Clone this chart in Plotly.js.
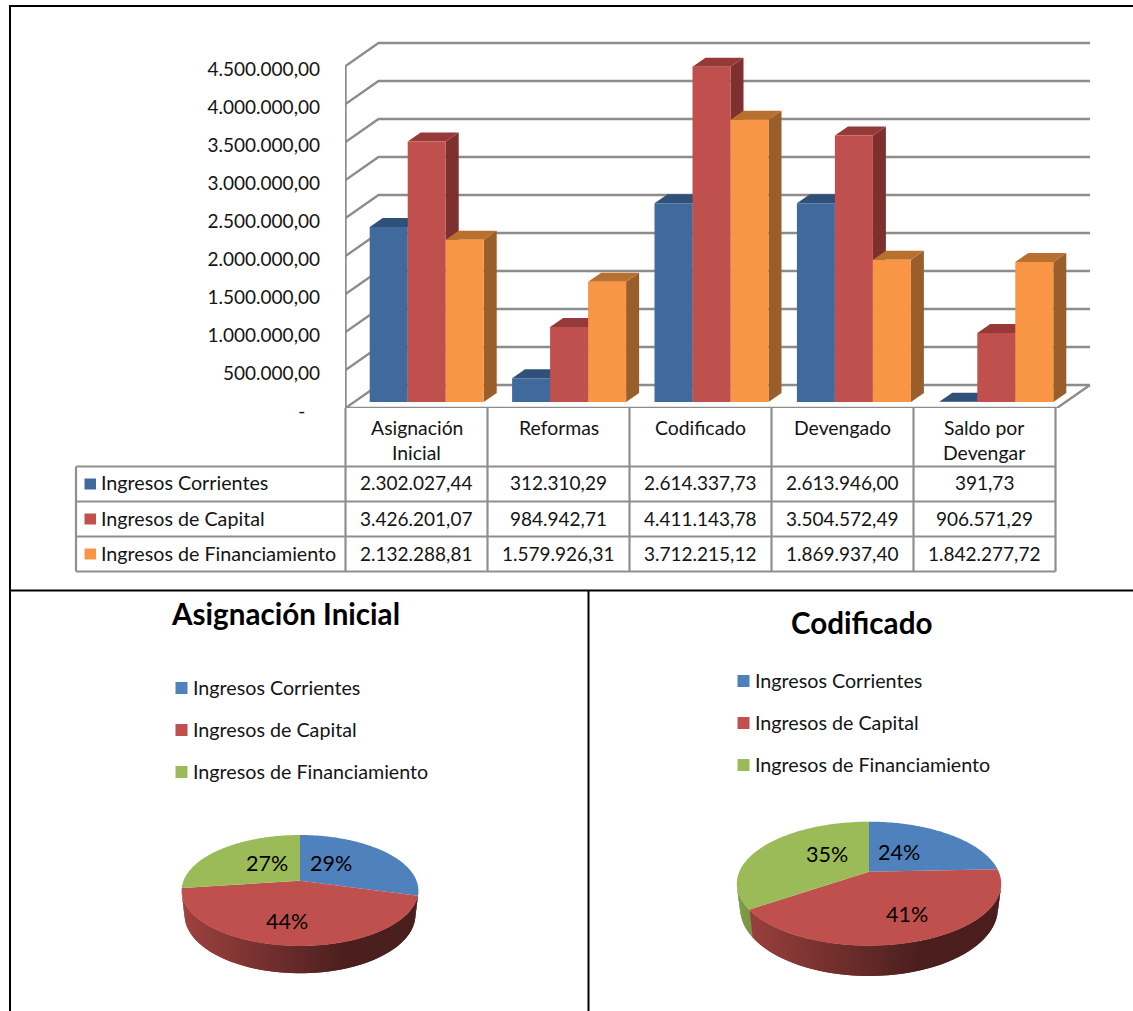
<!DOCTYPE html>
<html>
<head>
<meta charset="utf-8">
<script src="https://cdn.plot.ly/plotly-3.0.1.min.js"></script>
<style>html,body{margin:0;padding:0;background:#fff}</style>
</head>
<body>
<div id="chart" style="width:1133px;height:1011px"></div>
<script>
// Budget data
const categories = ['Asignación<br>Inicial', 'Reformas', 'Codificado', 'Devengado', 'Saldo por<br>Devengar'];
const seriesNames = ['Ingresos Corrientes', 'Ingresos de Capital', 'Ingresos de Financiamiento'];
const corrientes = [2302027.44, 312310.29, 2614337.73, 2613946.00, 391.73];
const capital = [3426201.07, 984942.71, 4411143.78, 3504572.49, 906571.29];
const financiamiento = [2132288.81, 1579926.31, 3712215.12, 1869937.40, 1842277.72];
const axisTicks = [0, 500000, 1000000, 1500000, 2000000, 2500000, 3000000, 3500000, 4000000, 4500000];
const pieTitles = ['Asignación Inicial', 'Codificado'];

const allSeries = [corrientes, capital, financiamiento];

// Page and colour settings
const W = 1133, H = 1011;
const FONT = 'Lato, Carlito, Calibri, sans-serif';
const TEXT = '#141414';
const GRID = '#8c8c8c';
const TABLE_LINE = '#8f8f8f';
const barFront = ['#416A9C', '#C0504D', '#F89646'];
const barTop = ['#2F5078', '#953A38', '#B9702F'];
const barSide = ['#2D4C73', '#7E302E', '#9A5E2A'];
const pieColors = ['#4F81BD', '#C0504D', '#9BBB59'];

const px = x => x / W;
const py = y => 1 - y / H;

// Bar plot scales: one group per unit on x, and the front wall's zero sits on the plot bottom
const GROUP_PX = 142.4, GROUP0_PX = 426.7, FLOOR_PX = 408, PLOT_TOP = 30;
const TABLE_COL_PX = 142;
const VALUE_PER_PX = 500000 / 38;
const xd = pxValue => (pxValue - GROUP0_PX) / GROUP_PX;
const yd = pixels => pixels * VALUE_PER_PX;
const BAR_BASE = yd(6.1);
const BAR_W = 38 / GROUP_PX;
const DEPTH_X = 13 / GROUP_PX, DEPTH_Y = yd(9);

const shapes = [];
const annotations = [];

function label(text, x, y, opts) {
  annotations.push(Object.assign({
    text, x, y, xref: 'paper', yref: 'paper', showarrow: false,
    xanchor: 'center', yanchor: 'middle', yshift: 1,
    font: {family: FONT, size: 19, color: TEXT}
  }, opts || {}));
}
function pageLine(x0, y0, x1, y1, color, width) {
  shapes.push({type: 'line', xref: 'paper', yref: 'paper', x0: px(x0), x1: px(x1), y0: py(y0), y1: py(y1),
    line: {color, width}});
}
function pageSquare(x0, y0, x1, y1, color) {
  shapes.push({type: 'rect', xref: 'paper', yref: 'paper', x0: px(x0), x1: px(x1), y0: py(y0), y1: py(y1),
    fillcolor: color, line: {width: 0}});
}
const money = v => {
  const [whole, dec] = v.toFixed(2).split('.');
  return whole.replace(/\B(?=(\d{3})+$)/g, '.') + ',' + dec;
};

// Walls and floor of the 3D box
const wallLeft = xd(345.5), wallRight = xd(1057), wallDx = 33 / GROUP_PX, wallDy = yd(23);
axisTicks.forEach(t => {
  shapes.push({type: 'path', layer: 'below', xref: 'x', yref: 'y',
    path: `M ${wallLeft} ${t} L ${wallLeft + wallDx} ${t + wallDy} L ${wallRight + wallDx} ${t + wallDy}`,
    line: {color: GRID, width: 2.4}});
});
shapes.push({type: 'path', layer: 'below', xref: 'x', yref: 'y',
  path: `M ${wallLeft} ${axisTicks[axisTicks.length - 1]} L ${wallLeft} 0 L ${wallRight} 0 L ${wallRight + wallDx} ${wallDy}`,
  line: {color: GRID, width: 2.4}});

// Side and top faces of each bar, from the bar's own value
categories.forEach((_, c) => {
  allSeries.forEach((vals, s) => {
    const left = c + (s - 1.5) * BAR_W, right = left + BAR_W;
    const top = BAR_BASE + vals[c];
    shapes.push({type: 'path', layer: 'below', xref: 'x', yref: 'y', fillcolor: barSide[s], line: {width: 0},
      path: `M ${right} ${BAR_BASE} L ${right + DEPTH_X} ${BAR_BASE + DEPTH_Y} L ${right + DEPTH_X} ${top + DEPTH_Y} L ${right} ${top} Z`});
    shapes.push({type: 'path', layer: 'below', xref: 'x', yref: 'y', fillcolor: barTop[s], line: {width: 0},
      path: `M ${left} ${top} L ${left + DEPTH_X} ${top + DEPTH_Y} L ${right + DEPTH_X} ${top + DEPTH_Y} L ${right} ${top} Z`});
  });
});

const traces = allSeries.map((vals, s) => ({
  type: 'bar', name: seriesNames[s], x: categories.map((_, i) => i), y: vals, base: BAR_BASE,
  marker: {color: barFront[s], line: {width: 0}}, xaxis: 'x', yaxis: 'y', showlegend: false, hoverinfo: 'skip'
}));

// Data table under the bars
const columnEdges = [0, 1, 2, 3, 4, 5].map(i => 345.5 + i * TABLE_COL_PX);
const rowEdges = [466.5, 501.5, 536.5, 571.5];
const TABLE_LEFT = 76;
columnEdges.forEach(x => pageLine(x, FLOOR_PX, x, rowEdges[3], TABLE_LINE, 2.2));
pageLine(TABLE_LEFT, rowEdges[0], TABLE_LEFT, rowEdges[3], TABLE_LINE, 2.2);
rowEdges.forEach(y => pageLine(TABLE_LEFT, y, columnEdges[5], y, TABLE_LINE, 2.2));

const nameFont = {family: FONT, size: 19.7, color: TEXT};
categories.forEach((cat, c) => {
  const cx = px(columnEdges[c] + TABLE_COL_PX / 2);
  const lines = cat.split('<br>');
  lines.forEach((ln, i) => label(ln, cx, py(428 + i * 25.5), {font: {family: FONT, size: 19.4, color: TEXT}}));
});
seriesNames.forEach((name, s) => {
  const mid = (rowEdges[s] + rowEdges[s + 1]) / 2;
  pageSquare(84.5, mid - 5.5, 96, mid + 5.5, barFront[s]);
  label(name, px(98.5), py(mid), {xanchor: 'left', font: nameFont});
  allSeries[s].forEach((v, c) => label(money(v), px(columnEdges[c] + TABLE_COL_PX / 2 - 0.5), py(mid)));
});

// Panel frame
const FRAME = '#000000';
pageLine(10, 6, W, 6, FRAME, 2);
pageLine(10, 5, 10, H, FRAME, 2);
pageLine(10, 590.5, W, 590.5, FRAME, 2);
pageLine(588.5, 590, 588.5, H, FRAME, 2);

// Tilted pies: each slice is projected from its angle, so the nearer edge looks larger
function piePoint(geo, deg, rim) {
  const a = deg * Math.PI / 180, u = Math.sin(a), v = Math.cos(a), w = 1 + geo.p * v;
  if (rim) return [geo.cx + geo.a * geo.sx * u / w, geo.rimCy - geo.b * geo.sy * v / w];
  return [geo.cx + geo.a * u / w, geo.cy - geo.b * v / w];
}
function mix(hex, f) {
  const n = parseInt(hex.slice(1), 16);
  const c = [n >> 16, (n >> 8) & 255, n & 255].map(k => Math.round(k * f));
  return `rgb(${c[0]},${c[1]},${c[2]})`;
}
function addPie(values, geo, axisX, axisY) {
  const total = values.reduce((a, b) => a + b, 0);
  const stops = [0];
  values.forEach(v => stops.push(stops[stops.length - 1] + v / total * 360));
  const common = {type: 'scatter', fill: 'toself', xaxis: axisX, yaxis: axisY,
    showlegend: false, hoverinfo: 'skip'};
  const left = geo.cx - geo.a, right = geo.cx + geo.a;
  // Rim between the two silhouette angles, painted left to right with each strip overlapping the next
  const tangent = Math.acos(-geo.p) * 180 / Math.PI;
  const rimStep = 2;
  for (let d = 360 - tangent - rimStep; d >= tangent; d -= rimStep) {
    const mid = d + rimStep / 2;
    let s = 0;
    while (s < values.length - 1 && mid > stops[s + 1]) s++;
    const stopAt = Math.max(tangent, d - rimStep);
    const startAt = d + rimStep;
    const pts = [piePoint(geo, startAt, false), piePoint(geo, stopAt, false), piePoint(geo, stopAt, true), piePoint(geo, startAt, true)];
    const t = (piePoint(geo, mid, false)[0] - left) / (right - left);
    const color = mix(pieColors[s], Math.max(0.39, 0.82 - 0.62 * t));
    traces.push(Object.assign({}, common, {
      mode: 'none', x: pts.map(p => p[0]), y: pts.map(p => p[1]), fillcolor: color
    }));
  }
  // Top face
  values.forEach((v, s) => {
    const xs = [geo.cx], ys = [geo.cy];
    for (let d = stops[s]; d < stops[s + 1]; d += 1) {
      const p = piePoint(geo, d, false);
      xs.push(p[0]); ys.push(p[1]);
    }
    const e = piePoint(geo, stops[s + 1], false);
    xs.push(e[0]); ys.push(e[1]);
    traces.push(Object.assign({}, common, {
      mode: 'none', name: seriesNames[s], x: xs, y: ys, fillcolor: pieColors[s]
    }));
  });
  // Percent labels
  values.forEach((v, s) => {
    annotations.push({
      text: Math.round(v / total * 100) + '%', x: geo.labels[s][0], y: geo.labels[s][1],
      xref: axisX, yref: axisY, showarrow: false, xanchor: 'center', yanchor: 'middle', yshift: 0,
      font: {family: FONT, size: 21.5, color: '#000'}
    });
  });
}

const pieA = {cx: 300, cy: 880.7, a: 116.5, b: 53.77, p: 0.1766, rimCy: 904.7, sx: 0.975, sy: 1.05,
  labels: [[330.7, 862.7], [286.7, 920.7], [266.7, 862.7]]};
const pieB = {cx: 869, cy: 871.7, a: 129.7, b: 59.7, p: 0.1935, rimCy: 895.3, sx: 0.975, sy: 1.09,
  labels: [[899.3, 852.3], [907, 914], [827.3, 854]]};
const columnOf = c => allSeries.map(vals => vals[c]);
addPie(columnOf(0), pieA, 'x2', 'y2');
addPie(columnOf(2), pieB, 'x3', 'y3');

// Pie titles and legends
const titleFont = {family: FONT, size: 29.6, color: '#000', weight: 700};
label('<b>' + pieTitles[0] + '</b>', px(285.5), py(614), {font: titleFont, yshift: 1});
label('<b>' + pieTitles[1] + '</b>', px(861), py(623), {font: titleFont, yshift: 1});
[[175.5, 688], [737.5, 681]].forEach(([lx, ly]) => {
  seriesNames.forEach((name, s) => {
    const y = ly + s * 42;
    pageSquare(lx, y - 6, lx + 12, y + 6, pieColors[s]);
    label(name, px(lx + 15), py(y), {xanchor: 'left', font: nameFont});
  });
});

const hidden = {visible: false, fixedrange: true};
const layout = {
  width: W, height: H, margin: {l: 0, r: 0, t: 0, b: 0}, autosize: false,
  paper_bgcolor: '#fff', plot_bgcolor: 'rgba(0,0,0,0)', showlegend: false,
  barmode: 'group', bargap: (GROUP_PX - 114) / GROUP_PX, bargroupgap: 0,
  xaxis: {domain: [px(345), px(1092)], range: [xd(345), xd(1092)], showgrid: false, zeroline: false,
    showline: false, showticklabels: false, ticks: '', fixedrange: true, anchor: 'y'},
  yaxis: {domain: [py(FLOOR_PX), py(PLOT_TOP)], range: [0, yd(FLOOR_PX - PLOT_TOP)], showgrid: false, zeroline: false,
    showline: false, ticks: '', tickmode: 'array', tickvals: axisTicks,
    ticktext: axisTicks.map(t => t === 0 ? '-\u00a0\u00a0\u00a0' : money(t)),
    tickfont: {family: FONT, size: 19, color: TEXT}, ticklabelstandoff: 24, ticklabelshift: 3, fixedrange: true, anchor: 'x'},
  xaxis2: Object.assign({domain: [px(12), px(587)], range: [12, 587], anchor: 'y2'}, hidden),
  yaxis2: Object.assign({domain: [0, py(592)], range: [H, 592], anchor: 'x2'}, hidden),
  xaxis3: Object.assign({domain: [px(590), 1], range: [590, W], anchor: 'y3'}, hidden),
  yaxis3: Object.assign({domain: [0, py(592)], range: [H, 592], anchor: 'x3'}, hidden),
  shapes, annotations
};

Plotly.newPlot('chart', traces, layout, {displayModeBar: false, staticPlot: true});
</script>
</body>
</html>
